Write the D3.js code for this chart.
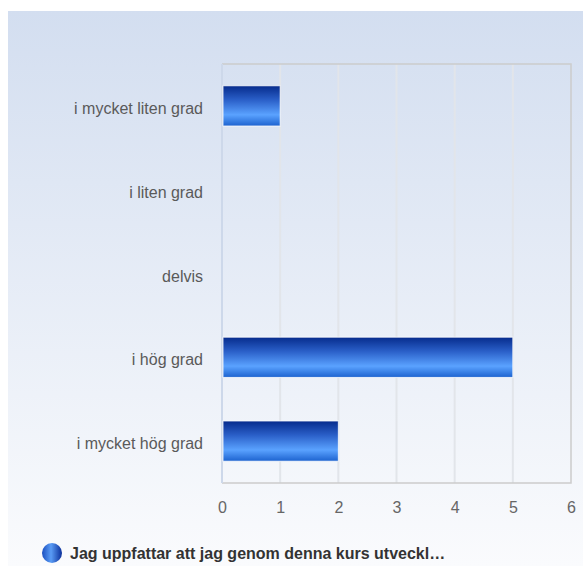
<!DOCTYPE html>
<html lang="sv">
<head>
<meta charset="UTF-8">
<script src="https://d3js.org/d3.v7.min.js"></script>
<style>
  body { margin: 0; background: #fff; }
  svg { display: block; font-family: "Liberation Sans", Arial, sans-serif; }
</style>
</head>
<body>
<div id="chart"></div>
<script>
  // Data
  const categories = ["i mycket liten grad", "i liten grad", "delvis", "i hög grad", "i mycket hög grad"];
  const values = [1, 0, 0, 5, 2];
  const xTicks = [0, 1, 2, 3, 4, 5, 6];
  const seriesName = "Jag uppfattar att jag genom denna kurs utveckl…";

  const W = 583, H = 566;
  const plot = { left: 222, right: 571, top: 64, bottom: 483 };

  const svg = d3.select("#chart").append("svg")
    .attr("width", W).attr("height", H);

  const defs = svg.append("defs");
  const bg = defs.append("linearGradient").attr("id", "bg")
    .attr("x1", 0).attr("y1", 0).attr("x2", 0).attr("y2", 1);
  bg.append("stop").attr("offset", "0%").attr("stop-color", "#d3def0");
  bg.append("stop").attr("offset", "100%").attr("stop-color", "#fafbfd");

  const barGrad = defs.append("linearGradient").attr("id", "bar")
    .attr("x1", 0).attr("y1", 0).attr("x2", 0).attr("y2", 1);
  barGrad.append("stop").attr("offset", "0%").attr("stop-color", "#062b8c");
  barGrad.append("stop").attr("offset", "35%").attr("stop-color", "#2a5fc8");
  barGrad.append("stop").attr("offset", "72%").attr("stop-color", "#5aa2ff");
  barGrad.append("stop").attr("offset", "100%").attr("stop-color", "#1c62cf");

  const legGrad = defs.append("linearGradient").attr("id", "leg")
    .attr("x1", 0).attr("y1", 0).attr("x2", 1).attr("y2", 0);
  legGrad.append("stop").attr("offset", "0%").attr("stop-color", "#1a4fc0");
  legGrad.append("stop").attr("offset", "45%").attr("stop-color", "#5a9cf5");
  legGrad.append("stop").attr("offset", "100%").attr("stop-color", "#0a2f9a");

  // Background panel
  svg.append("rect").attr("x", 8).attr("y", 11)
    .attr("width", W - 8).attr("height", H - 11)
    .attr("fill", "url(#bg)");

  // Scales
  const x = d3.scaleLinear().domain([0, 6]).range([plot.left, plot.right]);
  const y = d3.scaleBand().domain(categories)
    .range([plot.top, plot.bottom]).paddingInner(0.52).paddingOuter(0.26);

  // Grid
  svg.append("g").selectAll("line").data(xTicks.slice(1, -1)).join("line")
    .attr("x1", d => x(d)).attr("x2", d => x(d))
    .attr("y1", plot.top).attr("y2", plot.bottom)
    .attr("stroke", "#e2e5ea").attr("stroke-width", 2);

  // Plot frame
  svg.append("path")
    .attr("d", `M${plot.left},${plot.top}H${plot.right}V${plot.bottom}H${plot.left}`)
    .attr("fill", "none").attr("stroke", "#cccccc").attr("stroke-width", 1.5);
  svg.append("line")
    .attr("x1", plot.left).attr("x2", plot.left)
    .attr("y1", plot.top).attr("y2", plot.bottom)
    .attr("stroke", "#cdd8ea").attr("stroke-width", 2);

  // Bars
  svg.append("g").selectAll("rect").data(categories.map((c, i) => ({ c, v: values[i] })).filter(d => d.v > 0))
    .join("rect")
    .attr("x", x(0) + 1)
    .attr("y", d => y(d.c))
    .attr("width", d => x(d.v) - x(0) - 1)
    .attr("height", y.bandwidth())
    .attr("fill", "url(#bar)")
    .attr("stroke", "#ffffff").attr("stroke-width", 1).attr("stroke-opacity", 0.8);

  // Y axis labels
  const yAxis = svg.append("g")
    .attr("transform", `translate(${plot.left - 19},3)`)
    .call(d3.axisLeft(y).tickSize(0).tickPadding(0));
  yAxis.select(".domain").remove();
  yAxis.selectAll("text")
    .attr("font-size", 16).attr("fill", "#5a5a5a")
    .attr("font-family", "Liberation Sans, Arial, sans-serif");

  // X axis labels
  const xAxis = svg.append("g")
    .attr("transform", `translate(0,${plot.bottom + 19})`)
    .call(d3.axisBottom(x).tickValues(xTicks).tickSize(0).tickPadding(0).tickFormat(d3.format("d")));
  xAxis.select(".domain").remove();
  xAxis.selectAll("text")
    .attr("font-size", 16).attr("fill", "#666666")
    .attr("font-family", "Liberation Sans, Arial, sans-serif");

  // Legend
  const legend = svg.append("g").attr("transform", "translate(52,553)");
  legend.append("circle").attr("r", 10).attr("fill", "url(#leg)");
  legend.append("text")
    .attr("x", 18).attr("y", 6)
    .attr("font-size", 16).attr("font-weight", "bold").attr("fill", "#333333")
    .text(seriesName);
</script>
</body>
</html>
